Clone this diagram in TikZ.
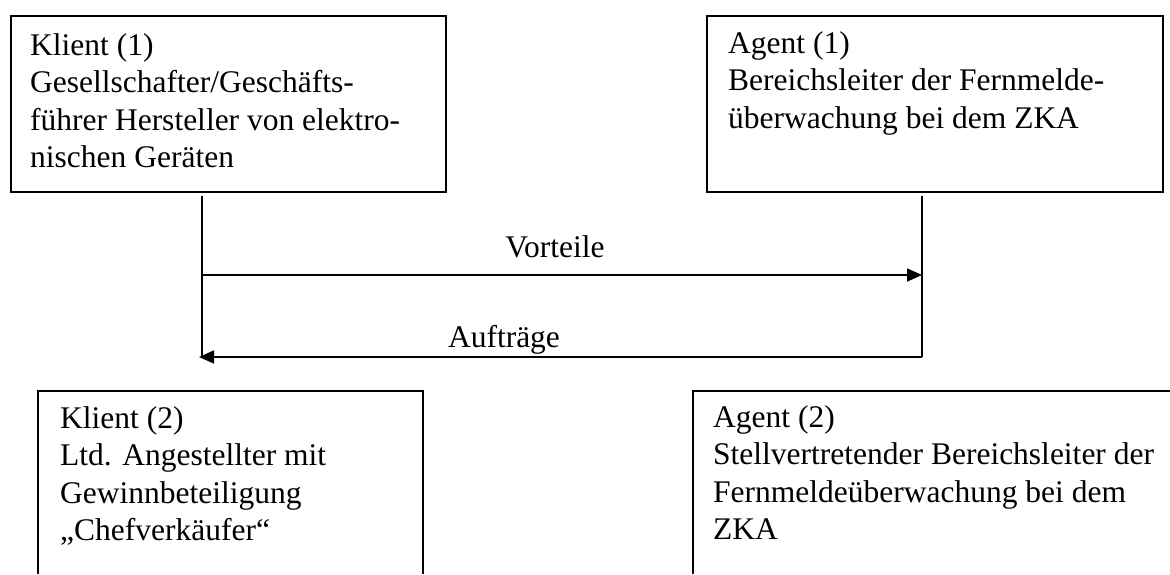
\documentclass[tikz,border=0pt]{standalone}
\usepackage{fontspec}
\setmainfont{Liberation Serif}
\usetikzlibrary{arrows.meta}
\newcommand\diagfs{\fontsize{31.5}{37.5}\selectfont}
\tikzset{
  frame/.style={draw, line width=1.7pt, inner sep=0pt, anchor=north west},
  lbl/.style={anchor=base west, inner sep=0pt, font=\diagfs},
  arrlbl/.style={anchor=base, inner sep=0pt, font=\diagfs},
  conn/.style={line width=1.6pt},
  arr/.style={line width=1.6pt, -{Triangle[length=15pt,width=13pt]}},
  openbox/.style={line width=1.7pt}
}
\begin{document}
\begin{tikzpicture}[x=1pt,y=1pt]
\useasboundingbox (0,0) rectangle (1170,-574);
% top boxes
\node[frame, minimum width=435pt, minimum height=176pt] (k1box) at (10,-15) {};
\node[frame, minimum width=456pt, minimum height=176pt] (a1box) at (706,-15) {};
\node[lbl] (k1) at (30,-55) {\begin{tabular}[t]{@{}l@{}}Klient (1)\\Gesellschafter/Geschäfts-\\führer Hersteller von elektro-\\nischen Geräten\end{tabular}};
\node[lbl] (a1) at (728,-53) {\begin{tabular}[t]{@{}l@{}}Agent (1)\\Bereichsleiter der Fernmelde-\\überwachung bei dem ZKA\end{tabular}};
% connector points
\coordinate (lv) at (202,-275);
\coordinate (lb) at (199,-357);
\coordinate (rv) at (922,-275);
\coordinate (rb) at (922,-357);
\draw[conn] ([yshift=-3pt]k1box.south -| lv) -- (lb -| lv);
\draw[conn] ([yshift=-3pt]a1box.south -| rv) -- (rb);
\draw[arr] (lv) -- (rv);
\draw[arr] (rb) -- (lb);
\node[arrlbl] (vort) at (555,-257) {Vorteile};
\node[arrlbl] (auft) at (504,-347) {Aufträge};
% bottom open boxes
\draw[openbox] (38,-574) -- (38,-391) -- (423,-391) -- (423,-574);
\draw[openbox] (693,-574) -- (693,-391) -- (1170,-391);
\node[lbl] (k2) at (60,-428) {\begin{tabular}[t]{@{}l@{}}Klient (2)\\Ltd. Angestellter mit\\Gewinnbeteiligung\\„Chefverkäufer“\end{tabular}};
\node[lbl] (a2) at (713,-427) {\begin{tabular}[t]{@{}l@{}}Agent (2)\\Stellvertretender Bereichsleiter der\\Fernmeldeüberwachung bei dem\\ZKA\end{tabular}};
\end{tikzpicture}
\end{document}
